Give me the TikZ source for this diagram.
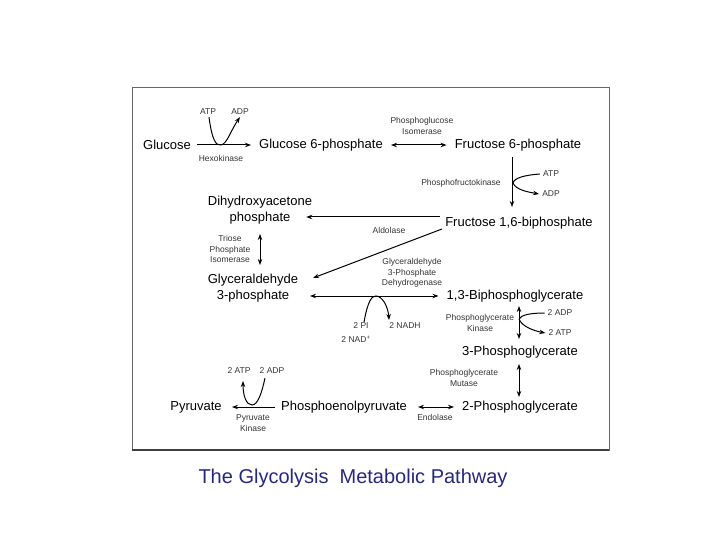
\documentclass[tikz,border=0pt]{standalone}
\usepackage{fontspec}
\setmainfont{Liberation Sans}
\usetikzlibrary{arrows.meta}
\begin{document}
\begin{tikzpicture}[x=1pt,y=-1pt,
  big/.style={font=\fontsize{13}{16}\selectfont,inner sep=0pt},
  sm/.style={font=\fontsize{8.5}{10.5}\selectfont,inner sep=0pt,align=center,text=black!80},
  arr/.style={-{Stealth[length=6pt,width=4.5pt]},line width=1pt},
  darr/.style={{Stealth[length=6pt,width=4.5pt]}-{Stealth[length=6pt,width=4.5pt]},line width=1pt}]
\useasboundingbox (0,0) rectangle (720,540);
\draw[black!60,line width=1pt] (132,88) rectangle (609,450);
\draw[black!75,line width=1.2pt] (132,450) -- (609,450);
% main nodes
\node[big] (glc) at (167,145) {Glucose};
\node[big] (g6p) at (321,145) {Glucose 6-phosphate};
\node[big] (f6p) at (518,145) {Fructose 6-phosphate};
\node[big] (fbp) at (519,223) {Fructose 1,6-biphosphate};
\node[big,align=center] (dhap) at (260,210) {Dihydroxyacetone\\phosphate};
\node[big,align=center] (gap) at (253,288) {Glyceraldehyde\\3-phosphate};
\node[big] (bpg) at (515,296) {1,3-Biphosphoglycerate};
\node[big] (pg3) at (520,352) {3-Phosphoglycerate};
\node[big] (pg2) at (520,407) {2-Phosphoglycerate};
\node[big] (pep) at (344,407) {Phosphoenolpyruvate};
\node[big] (pyr) at (196,407) {Pyruvate};
% small labels
\node[sm] (atp1) at (208,112) {ATP};
\node[sm] (adp1) at (240,112) {ADP};
\node[sm] (hk) at (221,158) {Hexokinase};
\node[sm] (pgi) at (422,126) {Phosphoglucose\\Isomerase};
\node[sm] (pfk) at (461,183) {Phosphofructokinase};
\node[sm] (atp2) at (551,174) {ATP};
\node[sm] (adp2) at (551,194) {ADP};
\node[sm] (ald) at (389,230) {Aldolase};
\node[sm] (tpi) at (230,249) {Triose\\Phosphate\\Isomerase};
\node[sm] (gapdh) at (412,273) {Glyceraldehyde\\3-Phosphate\\Dehydrogenase};
\node[sm] (pi) at (361,326) {2 PI};
\node[sm] (nadh) at (405,326) {2 NADH};
\node[sm] (nad) at (356,339) {2 NAD\textsuperscript{+}};
\node[sm] (pgk) at (480,323) {Phosphoglycerate\\Kinase};
\node[sm] (adp3) at (560,313) {2 ADP};
\node[sm] (atp3) at (560,333) {2 ATP};
\node[sm] (pgm) at (464,378) {Phosphoglycerate\\Mutase};
\node[sm] (eno) at (435,417) {Endolase};
\node[sm] (pk) at (253,423) {Pyruvate\\Kinase};
\node[sm] (atp4) at (239,371) {2 ATP};
\node[sm] (adp4) at (272,371) {2 ADP};
% connectors
\draw[arr] (glc.east) ++(6,0) -- ([xshift=-8pt]g6p.west);
\draw[arr] (atp1.south) ++(1,2) .. controls (212,140) and (216,146) .. (221,145) .. controls (227,144) and (231,130) .. ([yshift=-2pt]adp1.south);
\draw[darr] ([xshift=8pt]g6p.east) -- ([xshift=-8pt]f6p.west);
\draw[arr] (512,157) -- (512,207);
\draw[line width=1pt] (atp2.west) ++(-3,0) .. controls (525,175) and (514,178) .. (513,183);
\draw[arr] (513,183) .. controls (516,190) and (528,192) .. ([xshift=-3pt]adp2.west);
\draw[arr] (440,217) -- ([xshift=-6pt]dhap.east |- 0,217);
\draw[arr] (442,229) -- (313,278);
\draw[darr] (260,234) -- (260,265);
\draw[darr] (310,296) -- ([xshift=-8pt]bpg.west);
\draw[arr] (364,322) .. controls (368,300) and (372,296) .. (376,296) .. controls (382,296) and (388,306) .. (389,320);
\draw[darr] (519,306) -- (519,339);
\draw[line width=1pt] (adp3.west) ++(-3,0) .. controls (530,313) and (521,315) .. (519,319);
\draw[arr] (519,319) .. controls (522,327) and (535,331) .. ([xshift=-3pt]atp3.west);
\draw[darr] (519,364) -- (519,397);
\draw[darr] (418,407) -- (454,407);
\draw[arr] (275,407) -- (232,407);
\draw[arr] (265,378) .. controls (262,392) and (258,405) .. (252,405) .. controls (246,405) and (243,395) .. (243,381);
% title
\node[font=\fontsize{20}{24}\selectfont,text={rgb,255:red,40;green,40;blue,120}] (title) at (353,478) {The Glycolysis\ \ Metabolic Pathway};
\end{tikzpicture}
\end{document}
